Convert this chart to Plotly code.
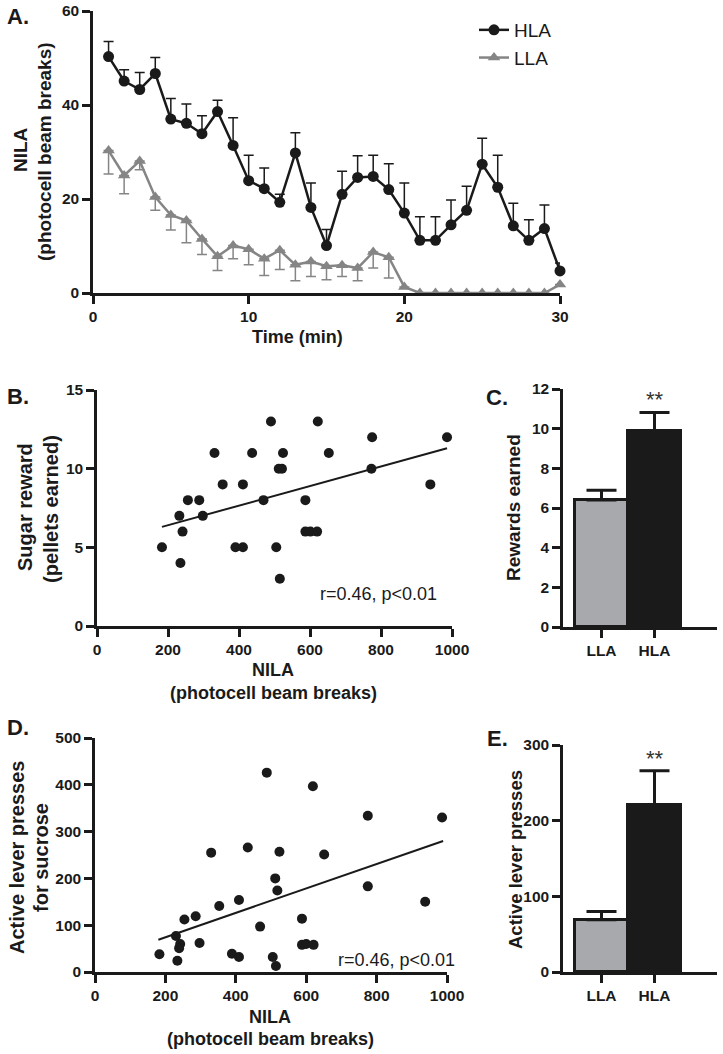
import plotly.graph_objects as go

W, H = 723, 1054

# ---------------- data ----------------
time_min = list(range(1, 31))
hla_mean = [50.3, 45.1, 43.3, 46.7, 37.0, 36.1, 33.9, 38.6, 31.4, 23.9,
            22.2, 19.3, 29.8, 18.2, 10.1, 21.0, 24.6, 24.8, 22.0, 17.0,
            11.2, 11.2, 14.5, 17.6, 27.4, 22.5, 14.3, 11.2, 13.7, 4.7]
hla_sem = [3.2, 2.4, 3.6, 3.4, 4.4, 4.1, 3.8, 2.4, 5.9, 5.4,
           4.4, 1.7, 4.3, 5.2, 3.4, 4.9, 4.6, 4.5, 5.5, 6.4,
           5.0, 5.0, 5.3, 5.1, 5.5, 6.8, 4.8, 4.4, 5.0, 1.7]
lla_mean = [30.3, 25.0, 28.1, 20.4, 16.6, 15.4, 11.5, 7.8, 10.1, 9.3,
            7.3, 9.1, 6.0, 6.7, 5.7, 5.9, 5.3, 8.7, 7.6, 1.3,
            0, 0, 0, 0, 0, 0, 0, 0, 0, 1.8]
lla_sem = [5.0, 3.9, 1.9, 2.8, 3.2, 4.7, 3.3, 3.0, 2.8, 3.3,
           3.6, 4.1, 3.4, 3.2, 2.9, 2.4, 2.7, 3.4, 4.4, 0,
           0, 0, 0, 0, 0, 0, 0, 0, 0, 0]

nila_b = [183, 232, 235, 241, 256, 288, 298, 331, 354, 390, 411, 411, 437, 469, 490,
          505, 512, 521, 515, 524, 587, 587, 601, 620, 622, 653, 775, 773, 939, 986]
sugar_b = [5, 7, 4, 6, 8, 8, 7, 11, 9, 5, 5, 9, 11, 8, 13,
           5, 10, 10, 3, 11, 8, 6, 6, 6, 13, 11, 12, 10, 9, 12]
fit_b_x = [183, 986]
fit_b_y = [6.3, 11.3]

nila_d = [183, 230, 234, 242, 239, 254, 286, 297, 330, 353, 389, 409, 409, 434, 469, 488,
          505, 512, 518, 514, 524, 588, 588, 600, 621, 619, 651, 775, 775, 938, 986]
presses_d = [38, 77, 24, 60, 51, 112, 119, 62, 255, 141, 39, 32, 154, 266, 97, 426,
             32, 200, 174, 13, 257, 114, 58, 60, 58, 397, 251, 334, 183, 150, 330]
fit_d_x = [180, 989]
fit_d_y = [69, 280]

groups = ["LLA", "HLA"]
rewards_mean = [6.4, 9.9]
rewards_sem = [0.5, 0.92]
presses_mean = [69, 221]
presses_sem = [11, 45]

# ---------------- style ----------------
FONT = "Liberation Sans, Arial, sans-serif"
BLACK = "#1a1a1a"
GRAY = "#858585"
BAR_GRAY = "#a7a9ac"


def px_x(p):
    return p / W


def px_y(p):
    return 1 - p / H


def xdom(x0, x1):
    return [px_x(x0), min(px_x(x1), 1.0)]


def ydom(bottom, top):
    return [px_y(bottom), px_y(top)]


fig = go.Figure()

# Panel A
fig.add_trace(go.Scatter(
    x=time_min, y=hla_mean, name="HLA", mode="lines+markers",
    line=dict(color=BLACK, width=2.5),
    marker=dict(symbol="circle", size=11, color=BLACK),
    error_y=dict(type="data", array=hla_sem, arrayminus=[0] * 30, symmetric=False,
                 color=BLACK, thickness=1.5, width=5),
    cliponaxis=False, xaxis="x", yaxis="y"))
fig.add_trace(go.Scatter(
    x=time_min, y=lla_mean, name="LLA", mode="lines+markers",
    line=dict(color=GRAY, width=2.5),
    marker=dict(symbol="triangle-up", size=11, color=GRAY),
    error_y=dict(type="data", array=[0] * 30, arrayminus=lla_sem, symmetric=False,
                 color=GRAY, thickness=1.5, width=5),
    cliponaxis=False, xaxis="x", yaxis="y"))

# Panel B
fig.add_trace(go.Scatter(x=nila_b, y=sugar_b, mode="markers", showlegend=False,
                         marker=dict(size=10, color=BLACK), cliponaxis=False,
                         xaxis="x2", yaxis="y2"))
fig.add_trace(go.Scatter(x=fit_b_x, y=fit_b_y, mode="lines", showlegend=False,
                         line=dict(color=BLACK, width=2), xaxis="x2", yaxis="y2"))

# Panel C
fig.add_trace(go.Bar(x=[1, 2], y=rewards_mean, showlegend=False, width=1.0,
                     marker=dict(color=[BAR_GRAY, BLACK], line=dict(color=BLACK, width=3)),
                     error_y=dict(type="data", array=rewards_sem, arrayminus=[0, 0],
                                  symmetric=False, color=BLACK, thickness=3, width=15),
                     xaxis="x3", yaxis="y3"))

# Panel D
fig.add_trace(go.Scatter(x=nila_d, y=presses_d, mode="markers", showlegend=False,
                         marker=dict(size=10, color=BLACK), cliponaxis=False,
                         xaxis="x4", yaxis="y4"))
fig.add_trace(go.Scatter(x=fit_d_x, y=fit_d_y, mode="lines", showlegend=False,
                         line=dict(color=BLACK, width=2), xaxis="x4", yaxis="y4"))

# Panel E
fig.add_trace(go.Bar(x=[1, 2], y=presses_mean, showlegend=False, width=1.0,
                     marker=dict(color=[BAR_GRAY, BLACK], line=dict(color=BLACK, width=3)),
                     error_y=dict(type="data", array=presses_sem, arrayminus=[0, 0],
                                  symmetric=False, color=BLACK, thickness=3, width=15),
                     xaxis="x5", yaxis="y5"))

tickfont = dict(family=FONT, size=15.5, color=BLACK, weight="bold")
common = dict(showline=True, linecolor=BLACK, linewidth=2.5, ticks="outside",
              ticklen=8, tickwidth=2.5, tickcolor=BLACK, showgrid=False,
              zeroline=False, tickfont=tickfont, fixedrange=True, automargin=False,
              ticklabeloverflow="allow")

# C/E x-axis range so that x=1 sits at page x 601.5 and 53 px per unit
bar_axis_px = (563, 717)
bar_range = [1 - (601.5 - bar_axis_px[0]) / 53, 1 + (bar_axis_px[1] - 601.5) / 53]

layout = dict(
    width=W, height=H, margin=dict(l=0, r=0, t=0, b=0, autoexpand=False),
    paper_bgcolor="white", plot_bgcolor="white",
    font=dict(family=FONT, color=BLACK),
    showlegend=True,
    legend=dict(x=px_x(474), y=px_y(11), xanchor="left", yanchor="top",
                font=dict(family=FONT, size=19, color=BLACK),
                bgcolor="rgba(0,0,0,0)", tracegroupgap=0, itemwidth=30),
    bargap=0,
    xaxis=dict(domain=xdom(93, 560), range=[0, 30], tickvals=[0, 10, 20, 30],
               anchor="y", **common),
    yaxis=dict(domain=ydom(293, 11), range=[0, 60], tickvals=[0, 20, 40, 60],
               anchor="x", **common),
    xaxis2=dict(domain=xdom(97, 452), range=[0, 1000], dtick=200, anchor="y2", **common),
    yaxis2=dict(domain=ydom(626, 390), range=[0, 15], dtick=5, anchor="x2", **common),
    xaxis3=dict(domain=xdom(*bar_axis_px), range=bar_range, tickvals=[1, 2],
                ticktext=groups, anchor="y3", **common),
    yaxis3=dict(domain=ydom(627, 389), range=[0, 12], dtick=2, anchor="x3", **common),
    xaxis4=dict(domain=xdom(95, 447), range=[0, 1000], dtick=200, anchor="y4", **common),
    yaxis4=dict(domain=ydom(972, 738), range=[0, 500], dtick=100, anchor="x4", **common),
    xaxis5=dict(domain=xdom(*bar_axis_px), range=bar_range, tickvals=[1, 2],
                ticktext=groups, anchor="y5", **common),
    yaxis5=dict(domain=ydom(972, 745), range=[0, 300], dtick=100, anchor="x5", **common),
)
fig.update_layout(**layout)


def ann(text, px, py, size=18, bold=True, angle=0, **kw):
    fig.add_annotation(text=text, x=px_x(px), y=px_y(py), xref="paper", yref="paper",
                       showarrow=False, textangle=angle, xanchor="center", yanchor="middle",
                       font=dict(family=FONT, size=size, color=BLACK,
                                 weight="bold" if bold else "normal"), **kw)


# Panel letters
ann("A.", 18, 17, size=22)
ann("B.", 18, 396, size=22)
ann("C.", 497, 397, size=22)
ann("D.", 18, 727, size=22)
ann("E.", 497, 738, size=22)

# Panel A titles
ann("NILA", 20, 150, size=19, angle=-90)
ann("(photocell beam breaks)", 44, 152, size=19, angle=-90)
ann("Time (min)", 297, 337, size=18)

# Panel B titles
ann("Sugar reward", 25, 507, size=20, angle=-90)
ann("(pellets earned)", 51, 509, size=20, angle=-90)
ann("NILA", 273, 670, size=18)
ann("(photocell beam breaks)", 273, 693, size=18)
ann("r=0.46, p<0.01", 378, 594, size=18, bold=False)

# Panel C
ann("Rewards earned", 514, 508, size=19, angle=-90)
fig.add_annotation(text="**", x=2, y=10.84, xref="x3", yref="y3", showarrow=False,
                   yanchor="bottom", yshift=-2,
                   font=dict(family=FONT, size=22, color="#333333"))

# Panel D titles
ann("Active lever presses", 17, 858, size=20, angle=-90)
ann("for sucrose", 41, 858, size=20, angle=-90)
ann("NILA", 270, 1017, size=18)
ann("(photocell beam breaks)", 270, 1039, size=18)
ann("r=0.46, p<0.01", 396, 960, size=18, bold=False)

# Panel E
ann("Active lever presses", 515, 860, size=18.5, angle=-90)
fig.add_annotation(text="**", x=2, y=266, xref="x5", yref="y5", showarrow=False,
                   yanchor="bottom", yshift=-2,
                   font=dict(family=FONT, size=22, color="#333333"))

fig.write_html("out.html",
               config={"displayModeBar": False},
               post_script="document.body.style.margin='0';"
                           "document.body.style.overflow='hidden';")
